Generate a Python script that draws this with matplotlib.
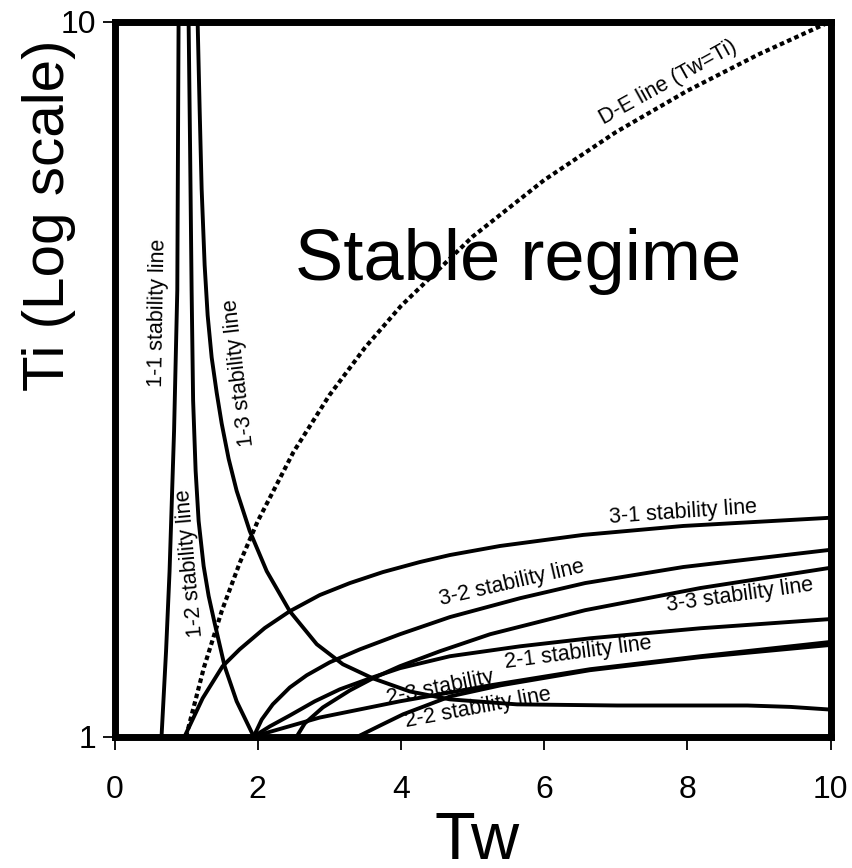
import numpy as np
import matplotlib.pyplot as plt
from matplotlib.ticker import NullLocator, FixedLocator, FixedFormatter

plt.rcParams['font.family'] = ['Liberation Sans', 'DejaVu Sans']

# stability lines, Tw vs Ti
tw_11 = [0.657, 0.720, 0.769, 0.832, 0.877, 0.895]
ti_11 = [1.0, 1.316, 1.703, 2.678, 4.21, 10.0]

tw_12 = [1.944, 1.706, 1.538, 1.399, 1.315, 1.245, 1.175, 1.133, 1.098, 1.077, 1.056, 1.035]
ti_12 = [1.0, 1.120, 1.254, 1.440, 1.572, 1.731, 2.002, 2.353, 2.950, 4.21, 6.614, 10.0]

tw_13 = [1.161, 1.189, 1.217, 1.259, 1.301, 1.357, 1.427, 1.497, 1.594, 1.706, 1.888,
         2.126, 2.448, 2.825, 3.189, 3.608, 4.126, 4.685, 5.622, 7.021, 8.839, 9.441, 9.972]
ti_13 = [10.0, 7.55, 5.833, 4.562, 3.882, 3.390, 3.027, 2.740, 2.446, 2.206, 1.939,
         1.703, 1.497, 1.346, 1.262, 1.206, 1.156, 1.127, 1.109, 1.105, 1.105, 1.100, 1.091]

tw_31 = [0.979, 1.231, 1.510, 1.748, 2.098, 2.448, 2.867, 3.287, 3.748, 4.266, 4.685,
         5.385, 6.545, 7.944, 9.972]
ti_31 = [1.0, 1.131, 1.254, 1.324, 1.418, 1.497, 1.577, 1.639, 1.698, 1.754, 1.794,
         1.847, 1.914, 1.970, 2.022]

tw_32 = [1.944, 2.056, 2.210, 2.448, 2.685, 3.007, 3.427, 3.986, 4.685, 5.664, 6.573,
         7.944, 9.972]
ti_32 = [1.0, 1.056, 1.109, 1.171, 1.218, 1.270, 1.324, 1.390, 1.469, 1.561, 1.639,
         1.726, 1.823]

tw_33 = [2.545, 2.657, 2.909, 3.287, 3.608, 3.986, 4.545, 5.245, 6.573, 8.182, 9.972]
ti_33 = [1.0, 1.043, 1.098, 1.160, 1.206, 1.254, 1.316, 1.390, 1.502, 1.613, 1.720]

tw_21 = [1.944, 2.168, 2.448, 2.797, 3.147, 3.608, 3.986, 4.685, 5.664, 6.643, 8.182, 9.972]
ti_21 = [1.0, 1.033, 1.070, 1.120, 1.164, 1.210, 1.246, 1.295, 1.337, 1.372, 1.417, 1.459]

tw_23 = [1.944, 2.867, 3.986, 5.245, 6.643, 8.182, 9.972]
ti_23 = [1.0, 1.063, 1.120, 1.179, 1.242, 1.295, 1.355]

tw_22 = [3.40, 3.71, 4.03, 4.69, 5.39, 6.64, 8.18, 9.97]
ti_22 = [1.0, 1.036, 1.074, 1.138, 1.179, 1.238, 1.291, 1.342]

# D-E line, Tw = Ti
de_tw = [1.0, 1.25, 1.5, 1.75, 2.0, 2.5, 3.0, 3.5, 4.0, 5.0, 6.0, 7.0, 8.0, 9.0, 10.0]
de_ti = [1.0, 1.25, 1.5, 1.75, 2.0, 2.5, 3.0, 3.5, 4.0, 5.0, 6.0, 7.0, 8.0, 9.0, 10.0]

xtick_vals = [0, 2, 4, 6, 8, 10]
ytick_vals = [1, 10]
ytick_labels = ['1', '10']

fig = plt.figure(figsize=(8.52, 8.68), dpi=100)
ax = fig.add_axes([114.5/852, 1-736.5/868, 716/852, 715/868])

lw = 2.8
for tw, ti in [(tw_11, ti_11), (tw_12, ti_12), (tw_13, ti_13), (tw_31, ti_31),
               (tw_32, ti_32), (tw_33, ti_33), (tw_21, ti_21), (tw_23, ti_23),
               (tw_22, ti_22)]:
    ax.plot(tw, ti, color='black', lw=lw, solid_joinstyle='round')

ax.plot(de_tw, de_ti, color='black', lw=3, dashes=(1.1, 0.8), dash_capstyle='butt')

ax.set_yscale('log')
ax.set_xlim(0, 10)
ax.set_ylim(1, 10)
ax.xaxis.set_major_locator(FixedLocator(xtick_vals))
ax.yaxis.set_major_locator(FixedLocator(ytick_vals))
ax.yaxis.set_major_formatter(FixedFormatter(ytick_labels))
ax.yaxis.set_minor_locator(NullLocator())

for s in ax.spines.values():
    s.set_linewidth(5)
ax.tick_params(axis='x', direction='out', length=9, width=1.3, labelsize=23, pad=19)
ax.tick_params(axis='y', direction='out', length=9, width=1.3, labelsize=23, pad=4)

ax.set_xlabel('Tw', fontsize=48)
ax.xaxis.set_label_coords(0.506, -0.104)
ax.set_ylabel('Ti (Log scale)', fontsize=42)
ax.yaxis.set_label_coords(-0.054, 0.729)

fs = 15.5
ax.text(5.64, 4.35, 'Stable regime', fontsize=52, ha='center', va='baseline')
ax.text(0.60, 3.92, '1-1 stability line', fontsize=fs, rotation=89,
        ha='center', va='center', rotation_mode='anchor')
ax.text(1.049, 1.748, '1-2 stability line', fontsize=fs, rotation=95,
        ha='center', va='center', rotation_mode='anchor')
ax.text(1.748, 3.23, '1-3 stability line', fontsize=fs, rotation=96.5,
        ha='center', va='center', rotation_mode='anchor')
ax.text(7.73, 8.21, 'D-E line (Tw=Ti)', fontsize=fs, rotation=29,
        ha='center', va='center', rotation_mode='anchor')
ax.text(7.94, 2.055, '3-1 stability line', fontsize=fs, rotation=4,
        ha='center', va='center', rotation_mode='anchor')
ax.text(5.55, 1.639, '3-2 stability line', fontsize=fs, rotation=13,
        ha='center', va='center', rotation_mode='anchor')
ax.text(8.74, 1.577, '3-3 stability line', fontsize=fs, rotation=8,
        ha='center', va='center', rotation_mode='anchor')
ax.text(6.48, 1.307, '2-1 stability line', fontsize=fs, rotation=7.5,
        ha='center', va='center', rotation_mode='anchor')
ax.text(4.545, 1.171, '2-3 stability', fontsize=fs, rotation=11.5,
        ha='center', va='center', rotation_mode='anchor')
ax.text(5.077, 1.095, '2-2 stability line', fontsize=fs, rotation=10.6,
        ha='center', va='center', rotation_mode='anchor')

plt.savefig('out.png', dpi=100)
